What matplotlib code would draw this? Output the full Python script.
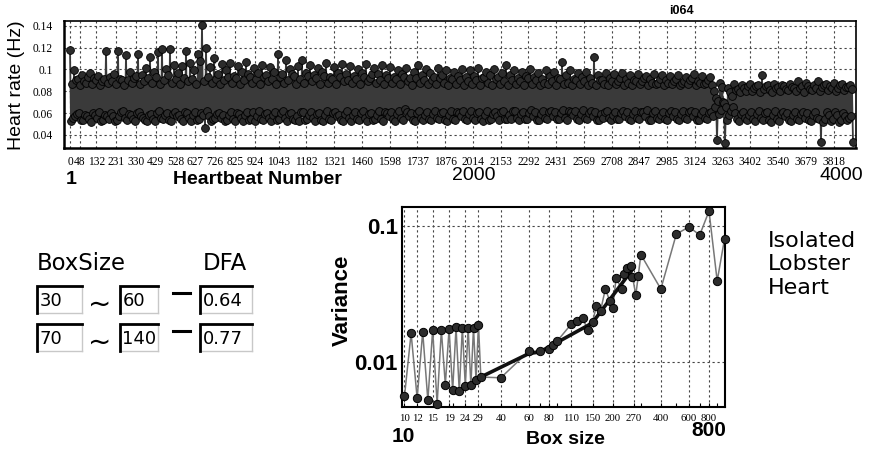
import matplotlib
matplotlib.use("Agg")
import matplotlib.pyplot as plt
from matplotlib.ticker import FixedLocator, FixedFormatter, NullFormatter, NullLocator

# ---------------- data: heart rate (sampled beats, alternating high/low) -------------
hi_beats_a = list(range(0, 3901, 20))
hi_rate_a = [
    0.118, 0.099, 0.091, 0.095, 0.088, 0.097, 0.092, 0.094, 0.089, 0.117,
    0.093, 0.096, 0.117, 0.090, 0.113, 0.098, 0.092, 0.114, 0.095, 0.101,
    0.111, 0.098, 0.116, 0.119, 0.100, 0.119, 0.104, 0.097, 0.103, 0.117,
    0.106, 0.099, 0.114, 0.141, 0.120, 0.102, 0.110, 0.096, 0.105, 0.099,
    0.106, 0.094, 0.103, 0.098, 0.107, 0.093, 0.101, 0.097, 0.104, 0.095,
    0.102, 0.098, 0.114, 0.096, 0.109, 0.100, 0.094, 0.103, 0.109, 0.097,
    0.104, 0.095, 0.101, 0.098, 0.106, 0.093, 0.102, 0.097, 0.105, 0.096,
    0.103, 0.094, 0.100, 0.097, 0.105, 0.092, 0.101, 0.096, 0.104, 0.095,
    0.102, 0.093, 0.099, 0.096, 0.101, 0.092, 0.098, 0.104, 0.095, 0.100,
    0.097, 0.093, 0.101, 0.095, 0.099, 0.092, 0.098, 0.094, 0.100, 0.093,
    0.099, 0.094, 0.101, 0.092, 0.098, 0.095, 0.100, 0.093, 0.097, 0.104,
    0.095, 0.099, 0.092, 0.098, 0.094, 0.100, 0.093, 0.097, 0.091, 0.099,
    0.094, 0.098, 0.092, 0.107, 0.095, 0.099, 0.091, 0.097, 0.093, 0.098,
    0.092, 0.111, 0.095, 0.090, 0.097, 0.092, 0.096, 0.089, 0.097, 0.091,
    0.095, 0.090, 0.096, 0.089, 0.094, 0.091, 0.096, 0.088, 0.095, 0.090,
    0.094, 0.089, 0.095, 0.088, 0.093, 0.090, 0.096, 0.089, 0.094, 0.088,
    0.093, 0.080, 0.071, 0.084, 0.066, 0.079, 0.087, 0.082, 0.086, 0.080,
    0.087, 0.083, 0.086, 0.095, 0.085, 0.081, 0.087, 0.084, 0.086, 0.082,
    0.087, 0.083, 0.089, 0.085, 0.088, 0.082, 0.086, 0.089, 0.084, 0.087,
    0.085, 0.088, 0.083, 0.087, 0.084, 0.086,
]
hi_beats_b = list(range(10, 3911, 20))
hi_rate_b = [
    0.087, 0.090, 0.086, 0.089, 0.093, 0.087, 0.090, 0.086, 0.091, 0.088,
    0.089, 0.087, 0.091, 0.086, 0.090, 0.088, 0.094, 0.087, 0.089, 0.092,
    0.088, 0.093, 0.087, 0.090, 0.095, 0.088, 0.091, 0.087, 0.092, 0.089,
    0.091, 0.087, 0.108, 0.089, 0.093, 0.088, 0.091, 0.087, 0.090, 0.093,
    0.088, 0.092, 0.087, 0.090, 0.096, 0.088, 0.091, 0.087, 0.093, 0.089,
    0.091, 0.087, 0.093, 0.088, 0.090, 0.096, 0.087, 0.091, 0.088, 0.094,
    0.089, 0.092, 0.087, 0.094, 0.088, 0.091, 0.087, 0.093, 0.089, 0.090,
    0.088, 0.091, 0.087, 0.093, 0.089, 0.096, 0.088, 0.090, 0.087, 0.092,
    0.088, 0.091, 0.087, 0.093, 0.089, 0.086, 0.092, 0.088, 0.090, 0.087,
    0.090, 0.087, 0.092, 0.088, 0.086, 0.091, 0.087, 0.090, 0.086, 0.089,
    0.087, 0.090, 0.086, 0.093, 0.088, 0.086, 0.091, 0.087, 0.089, 0.086,
    0.090, 0.087, 0.089, 0.086, 0.092, 0.087, 0.090, 0.086, 0.088, 0.087,
    0.089, 0.086, 0.091, 0.087, 0.088, 0.086, 0.090, 0.087, 0.089, 0.086,
    0.088, 0.086, 0.090, 0.087, 0.086, 0.089, 0.087, 0.092, 0.086, 0.088,
    0.086, 0.089, 0.087, 0.092, 0.086, 0.088, 0.087, 0.091, 0.086, 0.088,
    0.087, 0.091, 0.086, 0.089, 0.087, 0.092, 0.086, 0.088, 0.087, 0.090,
    0.086, 0.074, 0.088, 0.069, 0.083, 0.076, 0.081, 0.079, 0.083, 0.085,
    0.080, 0.085, 0.079, 0.082, 0.086, 0.079, 0.083, 0.080, 0.085, 0.081,
    0.084, 0.080, 0.083, 0.079, 0.085, 0.081, 0.083, 0.080, 0.086, 0.081,
    0.083, 0.080, 0.086, 0.081, 0.084, 0.082,
]
lo_beats_a = list(range(15, 3916, 20))
lo_rate_a = [
    0.056, 0.059, 0.054, 0.058, 0.055, 0.060, 0.056, 0.053, 0.058, 0.055,
    0.057, 0.054, 0.061, 0.056, 0.059, 0.055, 0.060, 0.057, 0.054, 0.058,
    0.055, 0.060, 0.056, 0.058, 0.054, 0.059, 0.057, 0.055, 0.061, 0.056,
    0.058, 0.054, 0.060, 0.046, 0.057, 0.055, 0.059, 0.056, 0.053, 0.058,
    0.055, 0.060, 0.056, 0.058, 0.054, 0.061, 0.057, 0.055, 0.059, 0.056,
    0.058, 0.054, 0.060, 0.056, 0.059, 0.055, 0.057, 0.061, 0.054, 0.058,
    0.056, 0.059, 0.054, 0.058, 0.055, 0.060, 0.057, 0.054, 0.059, 0.056,
    0.058, 0.055, 0.060, 0.056, 0.059, 0.054, 0.058, 0.055, 0.061, 0.057,
    0.055, 0.059, 0.056, 0.064, 0.057, 0.054, 0.060, 0.056, 0.058, 0.055,
    0.059, 0.056, 0.060, 0.054, 0.058, 0.055, 0.061, 0.057, 0.055, 0.059,
    0.056, 0.060, 0.055, 0.058, 0.054, 0.059, 0.057, 0.061, 0.055, 0.058,
    0.062, 0.056, 0.059, 0.055, 0.060, 0.057, 0.054, 0.059, 0.056, 0.061,
    0.057, 0.055, 0.060, 0.056, 0.062, 0.058, 0.055, 0.059, 0.056, 0.060,
    0.057, 0.054, 0.059, 0.061, 0.056, 0.058, 0.055, 0.060, 0.057, 0.055,
    0.059, 0.056, 0.061, 0.057, 0.054, 0.060, 0.056, 0.058, 0.055, 0.060,
    0.057, 0.055, 0.059, 0.056, 0.061, 0.057, 0.054, 0.059, 0.056, 0.060,
    0.057, 0.035, 0.063, 0.033, 0.058, 0.066, 0.055, 0.059, 0.056, 0.058,
    0.055, 0.059, 0.056, 0.060, 0.054, 0.058, 0.055, 0.059, 0.057, 0.054,
    0.058, 0.055, 0.059, 0.056, 0.054, 0.058, 0.056, 0.034, 0.055, 0.058,
    0.055, 0.058, 0.054, 0.057, 0.056, 0.034,
]
lo_beats_b = list(range(5, 3906, 20))
lo_rate_b = [
    0.053, 0.057, 0.060, 0.054, 0.057, 0.052, 0.058, 0.061, 0.054, 0.057,
    0.060, 0.053, 0.057, 0.062, 0.054, 0.058, 0.053, 0.061, 0.056, 0.053,
    0.059, 0.053, 0.062, 0.055, 0.060, 0.053, 0.061, 0.058, 0.053, 0.060,
    0.053, 0.061, 0.055, 0.058, 0.062, 0.053, 0.056, 0.060, 0.058, 0.054,
    0.061, 0.053, 0.059, 0.053, 0.061, 0.055, 0.053, 0.062, 0.054, 0.060,
    0.053, 0.061, 0.055, 0.062, 0.053, 0.060, 0.054, 0.053, 0.061, 0.055,
    0.061, 0.053, 0.060, 0.053, 0.062, 0.054, 0.061, 0.058, 0.053, 0.062,
    0.053, 0.061, 0.054, 0.062, 0.053, 0.060, 0.055, 0.062, 0.053, 0.060,
    0.061, 0.053, 0.062, 0.054, 0.061, 0.060, 0.053, 0.062, 0.054, 0.061,
    0.054, 0.062, 0.055, 0.061, 0.053, 0.062, 0.054, 0.060, 0.062, 0.054,
    0.062, 0.054, 0.061, 0.053, 0.062, 0.055, 0.061, 0.054, 0.062, 0.055,
    0.055, 0.062, 0.054, 0.061, 0.055, 0.063, 0.061, 0.054, 0.062, 0.055,
    0.062, 0.061, 0.055, 0.063, 0.054, 0.061, 0.062, 0.054, 0.063, 0.055,
    0.062, 0.061, 0.054, 0.056, 0.062, 0.054, 0.061, 0.055, 0.062, 0.061,
    0.054, 0.062, 0.055, 0.061, 0.063, 0.054, 0.062, 0.055, 0.061, 0.054,
    0.062, 0.061, 0.054, 0.062, 0.055, 0.062, 0.061, 0.054, 0.062, 0.055,
    0.061, 0.066, 0.059, 0.070, 0.054, 0.062, 0.060, 0.053, 0.061, 0.054,
    0.061, 0.053, 0.062, 0.054, 0.061, 0.052, 0.062, 0.053, 0.061, 0.060,
    0.053, 0.061, 0.054, 0.061, 0.060, 0.053, 0.061, 0.055, 0.052, 0.061,
    0.053, 0.061, 0.052, 0.060, 0.054, 0.057,
]
top_ticks = [0, 48, 132, 231, 330, 429, 528, 627, 726, 825, 924, 1043, 1182,
             1321, 1460, 1598, 1737, 1876, 2014, 2153, 2292, 2431, 2569, 2708,
             2847, 2985, 3124, 3263, 3402, 3540, 3679, 3818]
top_yticks = [0.04, 0.06, 0.08, 0.1, 0.12, 0.14]
top_ylabels = ["0.04", "0.06", "0.08", "0.1", "0.12", "0.14"]

# ---------------- data: DFA variance vs box size -------------
box_size = [10, 11, 12, 13, 14, 15, 16, 17, 18, 19, 20, 21, 22, 23, 24, 25, 26,
            27, 28, 29, 30, 40, 60, 70, 80, 85, 90, 110, 120, 130, 140, 150,
            158, 168, 180, 192, 200, 210, 228, 237, 246, 259, 266, 279, 289,
            300, 400, 500, 600, 700, 800, 900, 1000]
variance = [0.00565, 0.0163, 0.00547, 0.0167, 0.00526, 0.0172, 0.00497, 0.0172,
            0.00686, 0.0175, 0.00622, 0.0180, 0.00612, 0.0179, 0.00667, 0.0179,
            0.00678, 0.0179, 0.00738, 0.0189, 0.0078, 0.0077, 0.0121, 0.0120,
            0.0126, 0.0133, 0.0143, 0.0190, 0.0201, 0.0210, 0.0172, 0.0198,
            0.0258, 0.0238, 0.0344, 0.0281, 0.0248, 0.0412, 0.0344, 0.0440,
            0.0488, 0.0507, 0.0424, 0.0311, 0.0428, 0.0615, 0.0344, 0.0869,
            0.0980, 0.0855, 0.128, 0.0394, 0.080]
fit_box = [30, 60, 70, 140, 150, 270]
fit_var = [0.0078, 0.0116, 0.0119, 0.0186, 0.0196, 0.049]
box_ticks = [10, 12, 15, 19, 24, 29, 40, 60, 80, 110, 150, 200, 270, 400, 600, 800]
var_ticks = [0.01, 0.1]
var_labels = ["0.01", "0.1"]

# DFA table
range_lo = ["30", "70"]
range_hi = ["60", "140"]
dfa_vals = ["0.64", "0.77"]

W, H = 869, 449
fig = plt.figure(figsize=(W / 100, H / 100), dpi=100)
fig.patch.set_facecolor("white")

def fx(px):
    return px / W

def fy(py):
    return 1 - py / H

serif = ["Liberation Serif", "DejaVu Serif"]
sans = ["Liberation Sans", "DejaVu Sans"]
grid_kw = dict(color="#444444", linestyle=(0, (2, 2.5)), linewidth=0.8)

# ---------------- top panel -------------
ax1 = fig.add_axes([fx(64), fy(148), fx(856) - fx(64), (148 - 21.3) / H])
pairs = sorted(list(zip(hi_beats_a, hi_rate_a)) + list(zip(hi_beats_b, hi_rate_b))
               + list(zip(lo_beats_a, lo_rate_a)) + list(zip(lo_beats_b, lo_rate_b)))
beats = [p[0] for p in pairs]
rates = [p[1] for p in pairs]
ax1.plot(beats, rates, color="#3a3a3a", lw=1.3, zorder=2)
ax1.plot(beats, rates, ls="none", marker="o", ms=5.6, mfc="#2c2c2c",
         mec="black", mew=0.6, zorder=3)
ax1.set_xlim(-30, 3930)
ax1.set_ylim(0.0281, 0.144)
ax1.xaxis.set_major_locator(FixedLocator(top_ticks))
ax1.xaxis.set_major_formatter(FixedFormatter([str(t) for t in top_ticks]))
ax1.yaxis.set_major_locator(FixedLocator(top_yticks))
ax1.yaxis.set_major_formatter(FixedFormatter(top_ylabels))
ax1.tick_params(length=0, labelsize=8.3)
ax1.tick_params(axis="x", pad=6)
ax1.tick_params(axis="y", pad=8)
for lab in ax1.get_xticklabels() + ax1.get_yticklabels():
    lab.set_family(serif)
ax1.grid(True, **grid_kw)
ax1.set_axisbelow(True)
for s in ax1.spines.values():
    s.set_linewidth(1.2)
ax1.spines["left"].set_linewidth(1.8)
ax1.spines["bottom"].set_linewidth(1.8)

fig.text(fx(16.5), fy(85.5), "Heart rate (Hz)", rotation=90, ha="center",
         va="center", fontsize=14, family=sans)
fig.text(fx(71), fy(179), "1", ha="center", va="center", fontsize=14,
         fontweight="bold", family=sans)
fig.text(fx(257), fy(180), "Heartbeat Number", ha="center", va="center",
         fontsize=14, fontweight="bold", family=sans)
fig.text(fx(474), fy(176), "2000", ha="center", va="center", fontsize=14,
         family=sans)
fig.text(fx(841), fy(176), "4000", ha="center", va="center", fontsize=14,
         family=sans)
fig.text(fx(681), fy(11), "i064", ha="center", va="center", fontsize=9,
         fontweight="bold", family=sans)

# ---------------- bottom DFA panel -------------
ax2 = fig.add_axes([fx(402), fy(406.7), fx(725) - fx(402), 200 / H])
ax2.set_xscale("log")
ax2.set_yscale("log")
ax2.plot(box_size, variance, color="#777777", lw=1.1, zorder=2)
ax2.plot(fit_box, fit_var, color="#111111", lw=2.6, zorder=3,
         solid_capstyle="round")
ax2.plot(box_size, variance, ls="none", marker="o", ms=6, mfc="#2c2c2c",
         mec="black", mew=0.7, zorder=4, clip_on=False)
ax2.set_xlim(9.65, 1007)
ax2.set_ylim(0.00473, 0.1378)
ax2.xaxis.set_major_locator(FixedLocator(box_ticks))
ax2.xaxis.set_major_formatter(FixedFormatter([str(t) for t in box_ticks]))
ax2.xaxis.set_minor_formatter(NullFormatter())
ax2.yaxis.set_major_locator(FixedLocator(var_ticks))
ax2.yaxis.set_major_formatter(FixedFormatter(var_labels))
ax2.yaxis.set_minor_locator(NullLocator())
ax2.tick_params(axis="x", which="both", direction="in", length=3, width=0.8,
                labelsize=7.8, pad=5)
ax2.tick_params(axis="y", which="both", length=0, labelsize=16, pad=3)
for lab in ax2.get_xticklabels():
    lab.set_family(serif)
for lab in ax2.get_yticklabels():
    lab.set_family(sans)
    lab.set_fontweight("bold")
ax2.grid(True, which="major", **grid_kw)
ax2.set_axisbelow(True)
for s in ax2.spines.values():
    s.set_linewidth(1.5)

fig.text(fx(342), fy(300), "Variance", rotation=90, ha="center", va="center",
         fontsize=16, fontweight="bold", family=sans)
fig.text(fx(565), fy(439), "Box size", ha="center", va="center", fontsize=14,
         fontweight="bold", family=sans)
fig.text(fx(403), fy(436), "10", ha="center", va="center", fontsize=15,
         fontweight="bold", family=sans)
fig.text(fx(709), fy(431), "800", ha="center", va="center", fontsize=15,
         fontweight="bold", family=sans)

for i, line in enumerate(["Isolated", "Lobster", "Heart"]):
    fig.text(fx(768), fy(241 + 23.5 * i), line, ha="left", va="center",
             fontsize=16, family="DejaVu Sans")

# ---------------- left DFA table (overlay in pixel coords) -------------
ov = fig.add_axes([0, 0, 1, 1], facecolor="none")
ov.set_xlim(0, W)
ov.set_ylim(H, 0)
ov.axis("off")
ov.text(37, 263, "BoxSize", ha="left", va="center", fontsize=16.4,
        family="DejaVu Sans")
ov.text(203, 263, "DFA", ha="left", va="center", fontsize=16.4,
        family="DejaVu Sans")

def field(x0, x1, y0, y1, txt):
    ov.plot([x0, x1], [y1, y1], color="#c8c8c8", lw=1)
    ov.plot([x1, x1], [y0, y1], color="#c8c8c8", lw=1)
    ov.plot([x0, x0, x1], [y1, y0, y0], color="black", lw=2,
            solid_joinstyle="miter")
    ov.text(x0 + 2.5, (y0 + y1) / 2 + 1, txt, ha="left", va="center",
            fontsize=13, family="DejaVu Sans")

for r in range(2):
    y0 = 286 + 38 * r
    y1 = y0 + 27
    field(37, 82, y0, y1, range_lo[r])
    ov.text(100, y0 + 19, "~", ha="center", va="center", fontsize=20,
            family="DejaVu Sans")
    field(120, 158, y0, y1, range_hi[r])
    ov.plot([173, 190], [y0 + 7, y0 + 7], color="black", lw=2.2)
    field(200, 252, y0, y1, dfa_vals[r])

fig.savefig("out.png", dpi=100, facecolor="white")
